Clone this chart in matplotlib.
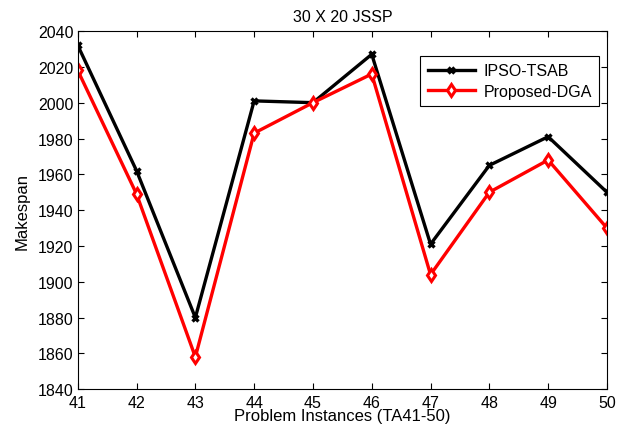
import matplotlib
matplotlib.use("Agg")
import matplotlib.pyplot as plt

instances = [41, 42, 43, 44, 45, 46, 47, 48, 49, 50]
ipso_tsab = [2032, 1962, 1880, 2001, 2000, 2027, 1921, 1965, 1981, 1950]
proposed_dga = [2018, 1949, 1858, 1983, 2000, 2016, 1904, 1950, 1968, 1930]

plt.rcParams['font.family'] = ['Liberation Sans', 'DejaVu Sans']
fig = plt.figure(figsize=(6.27, 4.27), dpi=100)
ax = fig.add_axes([0.124, 0.086, 0.844, 0.839])

ax.plot(instances, ipso_tsab, color='black', lw=2.4, marker='x', ms=5, mew=2.4, label='IPSO-TSAB')
ax.plot(instances, proposed_dga, color='red', lw=2.4, marker='d', ms=6, mew=2.2,
        mfc='white', label='Proposed-DGA')

ax.set_xlim(41, 50)
ax.set_ylim(1840, 2040)
ax.set_xticks(instances)
ax.set_yticks(range(1840, 2041, 20))
ax.tick_params(direction='in', top=True, right=True, labelsize=11.5, length=4)
ax.tick_params(axis='x', pad=4)
ax.tick_params(axis='y', pad=3)
ax.set_xlabel('Problem Instances (TA41-50)', fontsize=12, labelpad=-1)
ax.set_ylabel('Makespan', fontsize=12, labelpad=6)
ax.set_title('30 X 20 JSSP', fontsize=11.5, pad=7)
leg = ax.legend(loc='upper right', bbox_to_anchor=(0.985, 0.93), fontsize=11.5,
                fancybox=False, edgecolor='black', framealpha=1, borderaxespad=0,
                handlelength=3.0, borderpad=0.45, labelspacing=0.35, handletextpad=0.5)
leg.get_frame().set_linewidth(0.8)

fig.savefig('out.png', dpi=100)
